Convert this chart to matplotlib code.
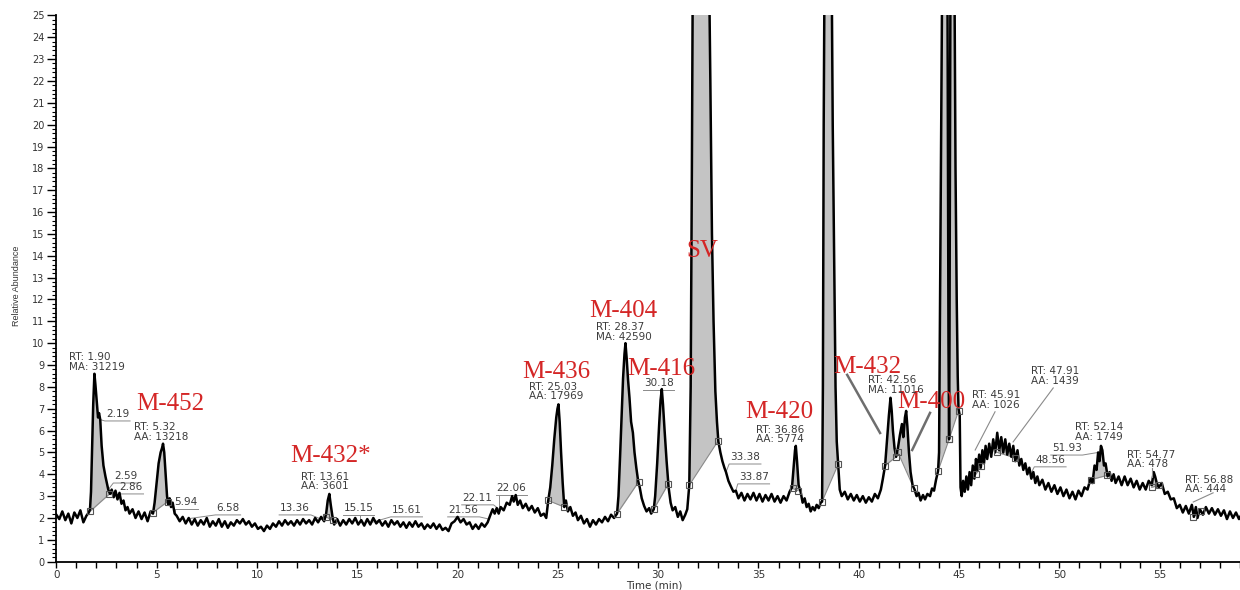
import numpy as np
import matplotlib
matplotlib.use("Agg")
import matplotlib.pyplot as plt
from matplotlib.ticker import MultipleLocator

plt.rcParams['font.family'] = ['DejaVu Sans']

# TIC trace, (retention time in min, relative abundance)
trace_early = [
    (0.00, 2.15), (0.15, 1.95), (0.30, 2.30), (0.45, 1.90), (0.60, 2.20), (0.75, 1.75), (0.90, 2.25),
    (1.05, 2.00), (1.20, 2.35), (1.35, 1.80), (1.50, 2.10), (1.62, 2.25),
    (1.68, 2.40), (1.73, 3.20), (1.78, 5.00), (1.84, 7.20), (1.90, 8.60), (1.95, 8.10), (2.01, 7.40),
    (2.08, 6.60), (2.13, 6.80), (2.19, 6.50), (2.26, 5.30), (2.35, 4.40), (2.45, 3.90), (2.52, 3.60),
    (2.59, 3.30), (2.68, 3.10), (2.76, 3.30), (2.86, 2.95), (2.95, 3.25), (3.05, 2.85), (3.15, 3.15),
    (3.25, 2.65), (3.35, 2.80), (3.45, 2.35), (3.55, 2.50), (3.65, 2.20), (3.80, 2.40), (3.95, 2.00),
    (4.10, 2.30), (4.25, 1.95), (4.40, 2.25), (4.55, 1.85), (4.70, 2.30), (4.82, 2.20),
    (4.90, 2.70), (5.00, 3.60), (5.10, 4.50), (5.20, 5.00), (5.27, 5.20), (5.32, 5.40), (5.38, 5.00),
    (5.45, 4.00), (5.52, 3.00), (5.58, 2.60), (5.65, 2.90), (5.72, 2.50), (5.80, 2.70), (5.90, 2.20),
    (6.00, 2.10), (6.15, 1.85), (6.30, 2.05), (6.45, 1.75), (6.60, 2.00), (6.75, 1.70), (6.90, 1.95),
    (7.05, 1.65), (7.20, 1.90), (7.35, 1.70), (7.50, 2.00), (7.65, 1.60), (7.80, 1.85), (7.95, 1.65),
    (8.10, 1.95), (8.25, 1.60), (8.40, 1.85), (8.55, 1.55), (8.70, 1.80), (8.85, 1.65), (9.00, 1.90),
    (9.15, 1.75), (9.30, 1.95), (9.45, 1.70), (9.60, 1.85), (9.75, 1.60), (9.90, 1.75), (10.05, 1.50),
    (10.20, 1.60), (10.35, 1.40), (10.50, 1.65), (10.65, 1.50), (10.80, 1.75), (10.95, 1.60), (11.10, 1.85),
    (11.25, 1.65), (11.40, 1.90), (11.55, 1.70), (11.70, 1.85), (11.85, 1.65), (12.00, 1.90), (12.15, 1.70),
    (12.30, 1.95), (12.45, 1.75), (12.60, 1.90), (12.75, 1.70), (12.90, 2.00), (13.05, 1.80), (13.20, 2.05),
    (13.35, 1.85), (13.45, 2.20), (13.53, 2.80), (13.61, 3.10), (13.68, 2.60), (13.76, 2.10), (13.85, 1.70),
]

trace_mid = [
    (14.00, 1.95), (14.15, 1.65), (14.30, 1.90), (14.45, 1.70), (14.60, 1.95), (14.75, 1.75), (14.90, 2.00),
    (15.05, 1.70), (15.20, 1.90), (15.35, 1.65), (15.50, 1.95), (15.65, 1.70), (15.80, 2.00), (15.95, 1.75),
    (16.10, 1.90), (16.25, 1.65), (16.40, 1.85), (16.55, 1.60), (16.70, 1.90), (16.85, 1.70), (17.00, 1.85),
    (17.15, 1.60), (17.30, 1.80), (17.45, 1.55), (17.60, 1.80), (17.75, 1.60), (17.90, 1.85), (18.05, 1.60),
    (18.20, 1.75), (18.35, 1.50), (18.50, 1.70), (18.65, 1.55), (18.80, 1.75), (18.95, 1.50), (19.10, 1.70),
    (19.25, 1.45), (19.40, 1.55), (19.55, 1.40), (19.70, 1.75), (19.85, 1.85), (20.00, 2.05), (20.15, 1.80),
    (20.30, 1.95), (20.45, 1.70), (20.60, 1.80), (20.75, 1.50), (20.90, 1.70), (21.05, 1.50), (21.20, 1.75),
    (21.35, 1.60), (21.50, 1.80), (21.62, 2.10), (21.75, 2.40), (21.85, 2.20), (21.95, 2.45), (22.05, 2.20),
    (22.15, 2.50), (22.30, 2.35), (22.45, 2.70), (22.60, 2.60), (22.72, 3.00), (22.80, 2.75), (22.90, 3.05),
    (23.00, 2.60), (23.12, 2.80), (23.25, 2.45), (23.40, 2.65), (23.55, 2.35), (23.70, 2.55), (23.85, 2.25),
    (24.00, 2.45), (24.15, 2.10), (24.30, 2.20), (24.42, 2.00), (24.52, 2.80),
    (24.62, 3.40), (24.72, 4.40), (24.82, 5.60), (24.92, 6.60), (24.98, 7.00), (25.03, 7.20), (25.09, 6.40),
    (25.16, 5.00), (25.24, 3.60), (25.32, 2.50), (25.40, 2.80), (25.50, 2.30), (25.62, 2.50), (25.75, 2.10),
    (25.88, 2.25), (26.00, 1.90), (26.15, 2.10), (26.30, 1.75), (26.45, 1.95), (26.60, 1.60), (26.75, 1.90),
    (26.90, 1.70), (27.05, 1.95), (27.20, 1.80), (27.35, 2.05), (27.50, 1.85), (27.65, 2.15), (27.80, 2.00),
    (27.95, 2.20),
    (28.02, 3.00), (28.10, 4.80), (28.17, 6.50), (28.25, 8.40), (28.32, 9.50), (28.37, 10.00), (28.43, 9.30),
    (28.50, 8.30), (28.57, 7.50), (28.65, 6.40), (28.74, 5.90), (28.82, 5.00), (28.91, 4.30), (29.00, 3.70),
    (29.08, 3.40), (29.18, 2.90), (29.30, 2.55), (29.42, 2.30), (29.55, 2.45), (29.65, 2.20), (29.78, 2.40),
    (29.85, 3.00), (29.95, 4.50), (30.05, 6.30), (30.12, 7.40), (30.18, 7.90), (30.24, 7.20), (30.32, 6.00),
    (30.42, 4.60), (30.52, 3.40), (30.62, 2.70), (30.72, 2.35), (30.85, 2.50), (30.98, 2.05), (31.10, 2.30),
    (31.22, 1.90), (31.35, 2.15), (31.45, 2.40),
]

trace_late = [
    (31.55, 3.50), (31.62, 8.00), (31.68, 18.0), (31.73, 28.0), (31.85, 42.0), (32.10, 50.0), (32.35, 42.0),
    (32.50, 30.0), (32.60, 22.0), (32.68, 15.0), (32.76, 11.0), (32.85, 7.80), (32.93, 6.40), (33.00, 5.50),
    (33.10, 5.00), (33.20, 4.60), (33.30, 4.30), (33.38, 4.10), (33.50, 3.70), (33.62, 3.45), (33.75, 3.20),
    (33.87, 3.25), (34.00, 2.90), (34.15, 3.15), (34.30, 2.80), (34.45, 3.10), (34.60, 2.85), (34.75, 3.15),
    (34.90, 2.80), (35.05, 3.10), (35.20, 2.75), (35.35, 3.05), (35.50, 2.80), (35.65, 3.10), (35.80, 2.75),
    (35.95, 3.00), (36.10, 2.70), (36.25, 3.00), (36.40, 2.80), (36.55, 3.20), (36.67, 3.40),
    (36.76, 4.40), (36.82, 5.10), (36.86, 5.30), (36.92, 4.60), (37.00, 3.50), (37.10, 3.20), (37.20, 2.70),
    (37.30, 2.90), (37.40, 2.50), (37.50, 2.65), (37.60, 2.30), (37.70, 2.50), (37.80, 2.35), (37.90, 2.60),
    (38.00, 2.45), (38.10, 2.70), (38.17, 2.75),
    (38.21, 8.00), (38.25, 20.0), (38.32, 32.0), (38.45, 46.0), (38.55, 42.0), (38.64, 28.0), (38.70, 20.0),
    (38.78, 13.0), (38.84, 8.00), (38.90, 5.50), (38.97, 4.50), (39.05, 3.30), (39.15, 3.00), (39.30, 3.20),
    (39.45, 2.85), (39.60, 3.10), (39.75, 2.80), (39.90, 3.05), (40.05, 2.75), (40.20, 3.00), (40.35, 2.70),
    (40.50, 2.95), (40.65, 2.75), (40.80, 3.10), (40.95, 2.90), (41.10, 3.30), (41.20, 3.80), (41.31, 4.40),
    (41.40, 5.50), (41.50, 6.70), (41.58, 7.50), (41.64, 6.90), (41.70, 6.00), (41.78, 5.20), (41.86, 4.80),
    (41.95, 5.20), (42.05, 5.80), (42.15, 6.30), (42.22, 5.70), (42.30, 6.60), (42.36, 6.90), (42.42, 6.20),
    (42.50, 5.00), (42.58, 4.10), (42.68, 3.50), (42.78, 3.30), (42.88, 3.00), (42.98, 3.15), (43.08, 2.80),
    (43.20, 3.05), (43.30, 2.85), (43.42, 3.10), (43.55, 3.00), (43.65, 3.35), (43.75, 3.25), (43.85, 3.75),
    (43.95, 4.15),
    (44.00, 5.00), (44.05, 12.0), (44.12, 22.0), (44.18, 30.0), (44.30, 45.0), (44.40, 32.0), (44.44, 20.0),
    (44.47, 10.0), (44.50, 5.60), (44.52, 10.0), (44.55, 22.0), (44.60, 35.0), (44.70, 45.0), (44.76, 28.0),
    (44.82, 18.0), (44.88, 12.0), (44.93, 8.50), (44.97, 7.00), (45.03, 6.70), (45.07, 3.40), (45.13, 3.00),
]

trace_tail = [
    (45.20, 3.70), (45.28, 3.20), (45.36, 3.90), (45.44, 3.30), (45.52, 4.10), (45.60, 3.50), (45.68, 4.40),
    (45.76, 3.80), (45.84, 4.70), (45.91, 4.20), (46.00, 4.90), (46.08, 4.30), (46.16, 5.10), (46.24, 4.50),
    (46.32, 5.30), (46.40, 4.70), (46.50, 5.40), (46.60, 4.80), (46.70, 5.60), (46.80, 5.00), (46.90, 5.90),
    (47.00, 5.10), (47.10, 5.70), (47.20, 5.00), (47.30, 5.60), (47.40, 4.90), (47.50, 5.40), (47.60, 4.80),
    (47.70, 5.30), (47.80, 4.60), (47.91, 5.10), (48.00, 4.40), (48.10, 4.70), (48.20, 4.20), (48.30, 4.50),
    (48.40, 4.00), (48.50, 4.30), (48.60, 3.80), (48.70, 4.10), (48.80, 3.60), (48.90, 3.90), (49.00, 3.50),
    (49.15, 3.75), (49.30, 3.30), (49.45, 3.60), (49.60, 3.20), (49.75, 3.50), (49.90, 3.10), (50.05, 3.40),
    (50.20, 3.00), (50.35, 3.30), (50.50, 2.90), (50.65, 3.20), (50.80, 2.85), (50.95, 3.25), (51.10, 3.00),
    (51.25, 3.40), (51.40, 3.30), (51.55, 3.80), (51.65, 3.60), (51.75, 4.40), (51.85, 4.20), (51.93, 5.00),
    (52.00, 4.60), (52.07, 5.30), (52.14, 5.10), (52.22, 4.40), (52.30, 4.50), (52.40, 3.90), (52.50, 4.10),
    (52.60, 3.70), (52.70, 4.00), (52.80, 3.60), (52.95, 3.90), (53.10, 3.50), (53.25, 3.90), (53.40, 3.50),
    (53.55, 3.80), (53.70, 3.40), (53.85, 3.70), (54.00, 3.30), (54.15, 3.60), (54.30, 3.30), (54.45, 3.70),
    (54.60, 3.50), (54.70, 4.10), (54.77, 3.90), (54.85, 3.60), (54.95, 3.40), (55.10, 3.60), (55.25, 3.10),
    (55.40, 3.20), (55.55, 2.85), (55.70, 2.90), (55.85, 2.45), (56.00, 2.60), (56.15, 2.25), (56.30, 2.55),
    (56.45, 2.20), (56.60, 2.60), (56.70, 2.05), (56.80, 2.50), (56.88, 2.00), (57.00, 2.40), (57.15, 2.15),
    (57.30, 2.50), (57.45, 2.20), (57.60, 2.45), (57.75, 2.15), (57.90, 2.40), (58.05, 2.10), (58.20, 2.35),
    (58.35, 1.95), (58.50, 2.30), (58.65, 2.00), (58.80, 2.25), (58.95, 1.95), (59.10, 2.20),
]

# integration windows: (rt start, baseline start, rt end, baseline end)
peak_bounds = [
    (1.68, 2.30, 2.65, 3.10), (4.82, 2.25, 5.55, 2.75), (13.42, 2.05, 13.80, 1.90),
    (24.52, 2.80, 25.32, 2.50), (27.95, 2.20, 29.02, 3.65), (29.78, 2.40, 30.50, 3.55),
    (31.55, 3.50, 32.99, 5.53), (36.70, 3.35, 36.97, 3.25), (38.17, 2.75, 38.97, 4.45),
    (41.31, 4.40, 41.86, 4.80), (41.95, 5.00, 42.75, 3.35), (43.95, 4.15, 44.50, 5.60),
    (44.50, 5.60, 44.97, 6.90), (45.84, 4.00, 46.10, 4.40), (46.90, 5.00, 47.80, 4.75),
    (51.55, 3.75, 52.38, 3.95), (54.60, 3.40, 54.95, 3.50), (56.67, 2.05, 57.05, 2.30),
]

# compound names
compound_names = ["M-452", "M-432*", "M-436", "M-404", "M-416", "SV", "M-420", "M-432", "M-400"]

# peak annotations (RT / area)
peak_info = [
    "RT: 1.90\nMA: 31219", "RT: 5.32\nAA: 13218", "RT: 13.61\nAA: 3601", "RT: 25.03\nAA: 17969",
    "RT: 28.37\nMA: 42590", "RT: 36.86\nAA: 5774", "RT: 42.56\nMA: 11016", "RT: 45.91\nAA: 1026",
    "RT: 47.91\nAA: 1439", "RT: 52.14\nAA: 1749", "RT: 54.77\nAA: 478", "RT: 56.88\nAA: 444",
]

# retention times shown as bare numbers
minor_rts = [2.19, 2.59, 2.86, 5.94, 6.58, 13.36, 15.15, 15.61, 21.56, 22.11, 22.06,
             30.18, 33.38, 33.87, 48.56, 51.93]

rt = np.array([p[0] for p in trace_early + trace_mid + trace_late + trace_tail])
ab = np.array([p[1] for p in trace_early + trace_mid + trace_late + trace_tail])

fig = plt.figure(figsize=(12.4, 5.9), dpi=100)
ax = fig.add_axes([0.0454, 0.048, 0.9546, 0.9259])

# shaded peak areas above the drop baselines
for t0, v0, t1, v1 in peak_bounds:
    inside = (rt > t0) & (rt < t1)
    xs = np.concatenate([[t0], rt[inside], [t1]])
    ys = np.concatenate([[np.interp(t0, rt, ab)], ab[inside], [np.interp(t1, rt, ab)]])
    base = v0 + (xs - t0) * (v1 - v0) / (t1 - t0)
    ax.fill_between(xs, base, ys, color='#c4c4c4', lw=0, zorder=1)
    ax.plot([t0, t1], [v0, v1], color='#8a8a8a', lw=0.8, zorder=2)
    ax.plot([t0, t1], [v0, v1], 's', ms=4.5, mfc='none', mec='#555555', mew=0.8, zorder=4)

ax.plot(rt, ab, color='black', lw=1.8, zorder=3)

# name labels
name_pos = [(5.67, 6.95), (13.69, 4.57), (24.91, 8.41), (28.25, 11.2), (30.14, 8.55),
            (32.19, 13.95), (36.03, 6.58), (40.42, 8.64), (43.60, 7.04)]
for name, (x, y) in zip(compound_names, name_pos):
    ax.text(x, y, name, family='Liberation Serif', fontsize=18, color='#d42626',
            ha='center', va='baseline', zorder=6)

# RT / area blocks
info_pos = [(2.03, 9.14), (5.24, 5.94), (13.42, 3.67), (24.91, 7.79), (28.30, 10.52), (36.10, 5.82),
            (41.83, 8.09), (46.84, 7.40), (49.79, 8.49), (52.00, 5.94), (54.55, 4.68), (57.46, 3.53)]
for txt, (x, y) in zip(peak_info, info_pos):
    ax.text(x, y, txt, fontsize=7.5, color='#3c3c3c', ha='center', va='center',
            multialignment='left', linespacing=0.95, zorder=6)

# bare RT labels with their underline and tie to the trace
minor_pos = [(3.05, 6.76), (3.47, 3.92), (3.72, 3.42), (6.44, 2.74), (8.56, 2.46), (11.90, 2.46),
             (15.06, 2.46), (17.46, 2.37), (20.30, 2.37), (21.00, 2.92), (22.69, 3.37), (30.02, 8.18),
             (34.33, 4.79), (34.76, 3.88), (49.54, 4.66), (50.36, 5.20)]
for r, (x, y) in zip(minor_rts, minor_pos):
    s = f"{r:.2f}"
    ax.text(x, y, s, fontsize=7.5, color='#3c3c3c', ha='center', va='center', zorder=6)
    half = (0.33 * (len(s) - 1) + 0.165) / 2 + 0.05
    yb = y - 0.32
    lx, ly = [x - half, x + half], [yb, yb]
    v_tr = np.interp(r, rt, ab)
    if r < x - half:
        lx, ly = [r] + lx, [v_tr] + ly
    elif r > x + half:
        lx, ly = lx + [r], ly + [v_tr]
    else:
        ax.plot([r, r], [yb, v_tr], color='#8a8a8a', lw=0.7, zorder=2)
    ax.plot(lx, ly, color='#8a8a8a', lw=0.7, zorder=2)

# leader lines
for (x0, y0), (x1, y1) in [((39.42, 8.55), (41.06, 5.89)), ((43.55, 6.81), (42.66, 5.11))]:
    ax.plot([x0, x1], [y0, y1], color='#6e6e6e', lw=1.8, zorder=5)
for (x0, y0), (x1, y1) in [((46.79, 6.86), (45.80, 5.11)), ((49.69, 7.95), (47.69, 5.48)),
                           ((54.62, 4.29), (54.62, 3.88)), ((57.66, 3.15), (56.67, 2.73))]:
    ax.plot([x0, x1], [y0, y1], color='#8a8a8a', lw=0.8, zorder=5)

ax.set_xlim(0, 59.0)
ax.set_ylim(0, 25)
ax.xaxis.set_major_locator(MultipleLocator(5))
ax.xaxis.set_minor_locator(MultipleLocator(1))
ax.yaxis.set_major_locator(MultipleLocator(1))
ax.yaxis.set_minor_locator(MultipleLocator(0.2))
ax.tick_params(axis='y', which='major', length=6.5, width=1, pad=2, labelsize=7, labelcolor='#333333')
ax.tick_params(axis='y', which='minor', length=3, width=0.8)
ax.tick_params(axis='x', which='major', length=4.3, width=1, pad=2, labelsize=7.5, labelcolor='#333333')
ax.tick_params(axis='x', which='minor', length=4.0, width=1)
for side in ['top', 'right']:
    ax.spines[side].set_visible(False)
for side in ['left', 'bottom']:
    ax.spines[side].set_linewidth(1.3)

fig.text(0.0137, 0.515, "Relative Abundance", rotation=90, family='Liberation Sans',
         fontsize=6.5, ha='center', va='center', color='#333333')
fig.text(0.528, 0.0068, "Time (min)", fontsize=7.5, ha='center', va='center', color='#333333')

fig.savefig("out.png", dpi=100)
